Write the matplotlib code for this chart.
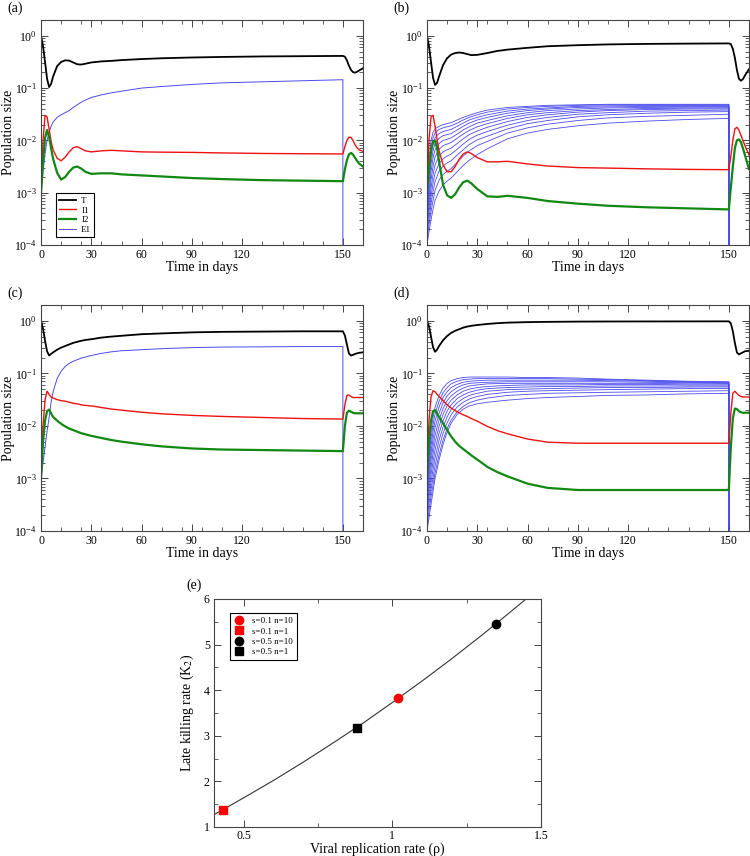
import numpy as np
import matplotlib
matplotlib.use('Agg')
import matplotlib.pyplot as plt
from matplotlib.ticker import FixedLocator, LogLocator, NullFormatter, MultipleLocator

plt.rcParams['font.family'] = ['Liberation Serif', 'DejaVu Serif']
plt.rcParams['mathtext.fontset'] = 'stix'

#%% Data (stored as log10 of population size)

days = [0, 1, 2, 3, 4, 5, 6, 8, 10, 12, 14, 16, 18, 20, 22, 25, 30, 35, 40, 50,
        60, 75, 90, 110, 130, 150, 151, 152, 153, 154, 155, 156, 157, 158, 160]
e1_days = [0, 1, 2, 3, 4, 5, 6, 8, 10, 12, 14, 16, 18, 20, 22, 25, 30, 35, 40, 50,
           60, 75, 90, 110, 130, 150]
fam_days = [0, 1, 2, 3, 4, 6, 8, 10, 12, 15, 18, 21, 25, 30, 40, 50, 60, 75, 90, 110, 130, 150]

x_ticks = [0, 25, 50, 75, 100, 150]
x_tick_labels = ['0', '30', '60', '90', '120', '150']

# panel (a)
T_a = [0, -0.2, -0.5, -0.82, -0.98, -0.92, -0.78, -0.58, -0.5, -0.47, -0.475, -0.51, -0.545, -0.55,
       -0.535, -0.51, -0.49, -0.48, -0.465, -0.445, -0.43, -0.415, -0.405, -0.395, -0.39, -0.385,
       -0.40, -0.47, -0.57, -0.65, -0.695, -0.705, -0.69, -0.665, -0.62]
I1_a = [-3.0, -2.0, -1.52, -1.55, -1.78, -2.02, -2.18, -2.34, -2.39, -2.32, -2.22, -2.14, -2.12, -2.16,
        -2.2, -2.22, -2.2, -2.19, -2.2, -2.22, -2.225, -2.23, -2.24, -2.25, -2.255, -2.26,
        -2.12, -2.0, -1.94, -1.94, -2.0, -2.08, -2.14, -2.18, -2.21]
I2_a = [-3.0, -2.4, -1.95, -1.8, -1.93, -2.15, -2.35, -2.62, -2.75, -2.7, -2.6, -2.52, -2.5, -2.54,
        -2.6, -2.64, -2.63, -2.63, -2.65, -2.67, -2.69, -2.72, -2.74, -2.76, -2.77, -2.78,
        -2.55, -2.38, -2.27, -2.24, -2.27, -2.33, -2.39, -2.44, -2.5]
E1_a = [-3.0, -2.6, -2.25, -2.0, -1.85, -1.73, -1.65, -1.56, -1.51, -1.47, -1.43, -1.37, -1.32, -1.27,
        -1.23, -1.18, -1.13, -1.09, -1.06, -1.0, -0.97, -0.93, -0.90, -0.88, -0.86, -0.84]

# panel (b)
T_b = [0, -0.2, -0.5, -0.8, -0.94, -0.9, -0.78, -0.56, -0.43, -0.36, -0.33, -0.32, -0.33, -0.35,
       -0.37, -0.365, -0.33, -0.29, -0.265, -0.23, -0.2, -0.18, -0.165, -0.155, -0.15, -0.146,
       -0.16, -0.25, -0.42, -0.65, -0.82, -0.86, -0.83, -0.76, -0.64]
I1_b = [-3.0, -2.0, -1.55, -1.52, -1.72, -1.98, -2.2, -2.47, -2.6, -2.6, -2.5, -2.36, -2.26, -2.22,
        -2.25, -2.33, -2.41, -2.41, -2.40, -2.45, -2.49, -2.52, -2.53, -2.545, -2.555, -2.56,
        -2.3, -2.0, -1.78, -1.75, -1.8, -1.9, -2.0, -2.1, -2.28]
I2_b = [-3.0, -2.55, -2.2, -2.03, -2.0, -2.15, -2.4, -2.85, -3.05, -3.1, -3.03, -2.9, -2.8, -2.77,
        -2.82, -2.93, -3.07, -3.08, -3.06, -3.1, -3.16, -3.21, -3.25, -3.28, -3.3, -3.32,
        -2.9, -2.5, -2.15, -2.0, -1.98, -2.03, -2.15, -2.28, -2.55]
E1_b = [
    [-3.0, -2.4, -2.0, -1.85, -1.78, -1.73, -1.70, -1.68, -1.66, -1.61, -1.56, -1.52, -1.47, -1.42, -1.37, -1.35, -1.33, -1.32, -1.31, -1.31, -1.31, -1.31],
    [-3.1, -2.55, -2.15, -1.95, -1.86, -1.79, -1.76, -1.74, -1.72, -1.67, -1.61, -1.56, -1.51, -1.46, -1.40, -1.37, -1.35, -1.33, -1.32, -1.32, -1.32, -1.32],
    [-3.2, -2.7, -2.3, -2.07, -1.95, -1.87, -1.83, -1.81, -1.79, -1.73, -1.67, -1.61, -1.56, -1.51, -1.44, -1.40, -1.38, -1.35, -1.34, -1.335, -1.335, -1.335],
    [-3.3, -2.85, -2.45, -2.2, -2.06, -1.96, -1.91, -1.89, -1.87, -1.80, -1.73, -1.67, -1.61, -1.56, -1.48, -1.43, -1.40, -1.37, -1.36, -1.35, -1.35, -1.35],
    [-3.4, -3.0, -2.6, -2.34, -2.18, -2.06, -2.00, -1.98, -1.95, -1.88, -1.80, -1.74, -1.67, -1.62, -1.53, -1.47, -1.43, -1.40, -1.38, -1.37, -1.365, -1.365],
    [-3.5, -3.12, -2.76, -2.5, -2.32, -2.17, -2.10, -2.07, -2.04, -1.96, -1.88, -1.81, -1.74, -1.68, -1.58, -1.51, -1.47, -1.43, -1.41, -1.39, -1.385, -1.38],
    [-3.6, -3.25, -2.92, -2.66, -2.47, -2.30, -2.22, -2.18, -2.15, -2.06, -1.97, -1.89, -1.82, -1.75, -1.64, -1.56, -1.51, -1.46, -1.43, -1.41, -1.40, -1.40],
    [-3.7, -3.37, -3.07, -2.82, -2.63, -2.44, -2.35, -2.30, -2.26, -2.17, -2.07, -1.98, -1.90, -1.83, -1.71, -1.62, -1.56, -1.50, -1.47, -1.44, -1.43, -1.42],
    [-3.8, -3.5, -3.22, -2.98, -2.79, -2.59, -2.49, -2.43, -2.39, -2.28, -2.18, -2.08, -1.99, -1.92, -1.78, -1.68, -1.62, -1.55, -1.51, -1.48, -1.46, -1.45],
    [-3.9, -3.62, -3.37, -3.15, -2.96, -2.76, -2.65, -2.59, -2.54, -2.42, -2.30, -2.20, -2.10, -2.02, -1.86, -1.76, -1.69, -1.62, -1.57, -1.54, -1.52, -1.50],
    [-4.0, -3.75, -3.52, -3.32, -3.15, -2.97, -2.85, -2.78, -2.72, -2.6, -2.48, -2.38, -2.27, -2.16, -1.97, -1.86, -1.79, -1.72, -1.67, -1.63, -1.60, -1.58],
]

# panel (c)
T_c = [0, -0.15, -0.38, -0.58, -0.66, -0.63, -0.6, -0.55, -0.51, -0.48, -0.45, -0.42, -0.40, -0.38,
       -0.365, -0.35, -0.32, -0.30, -0.285, -0.255, -0.24, -0.22, -0.21, -0.205, -0.2, -0.2,
       -0.28, -0.45, -0.62, -0.66, -0.65, -0.63, -0.62, -0.61, -0.6]
I1_c = [-3.0, -2.0, -1.5, -1.34, -1.4, -1.45, -1.47, -1.5, -1.52, -1.53, -1.55, -1.57, -1.58, -1.6,
        -1.61, -1.62, -1.65, -1.68, -1.7, -1.74, -1.77, -1.8, -1.82, -1.84, -1.86, -1.87,
        -1.6, -1.42, -1.41, -1.44, -1.46, -1.46, -1.46, -1.46, -1.46]
I2_c = [-3.0, -2.3, -1.9, -1.72, -1.69, -1.76, -1.83, -1.9, -1.96, -2.01, -2.05, -2.08, -2.11, -2.14,
        -2.16, -2.19, -2.23, -2.27, -2.3, -2.35, -2.39, -2.43, -2.45, -2.46, -2.47, -2.48,
        -2.0, -1.75, -1.71, -1.73, -1.75, -1.76, -1.76, -1.76, -1.76]
E1_c = [-3.0, -2.7, -2.4, -2.1, -1.85, -1.55, -1.35, -1.1, -0.96, -0.87, -0.81, -0.77, -0.74, -0.71,
        -0.69, -0.66, -0.62, -0.59, -0.57, -0.55, -0.53, -0.51, -0.50, -0.495, -0.49, -0.49]

# panel (d)
T_d = [0, -0.1, -0.3, -0.5, -0.59, -0.55, -0.48, -0.37, -0.29, -0.23, -0.19, -0.16, -0.13, -0.11,
       -0.095, -0.08, -0.06, -0.045, -0.035, -0.025, -0.02, -0.015, -0.013, -0.012, -0.011, -0.01,
       -0.05, -0.2, -0.42, -0.6, -0.64, -0.62, -0.6, -0.58, -0.57]
I1_d = [-3.0, -1.9, -1.45, -1.33, -1.35, -1.4, -1.44, -1.52, -1.6, -1.66, -1.71, -1.75, -1.79, -1.82,
        -1.86, -1.91, -2.01, -2.09, -2.15, -2.25, -2.31, -2.33, -2.33, -2.33, -2.33, -2.33,
        -1.75, -1.38, -1.34, -1.38, -1.42, -1.44, -1.45, -1.45, -1.45]
I2_d = [-3.0, -2.3, -1.9, -1.72, -1.7, -1.76, -1.83, -1.95, -2.08, -2.2, -2.3, -2.38, -2.44, -2.5,
        -2.56, -2.64, -2.78, -2.88, -2.96, -3.1, -3.18, -3.22, -3.22, -3.22, -3.22, -3.22,
        -2.4, -1.85, -1.67, -1.68, -1.72, -1.74, -1.75, -1.75, -1.75]
E1_d = [
    [-3.0, -2.5, -2.1, -1.85, -1.65, -1.42, -1.28, -1.19, -1.14, -1.10, -1.08, -1.07, -1.07, -1.07, -1.07, -1.08, -1.08, -1.09, -1.11, -1.13, -1.15, -1.16],
    [-3.1, -2.62, -2.24, -1.98, -1.78, -1.53, -1.37, -1.27, -1.20, -1.15, -1.12, -1.11, -1.10, -1.10, -1.10, -1.10, -1.10, -1.11, -1.12, -1.14, -1.16, -1.17],
    [-3.2, -2.74, -2.38, -2.11, -1.91, -1.64, -1.46, -1.35, -1.27, -1.21, -1.17, -1.15, -1.14, -1.13, -1.13, -1.13, -1.13, -1.13, -1.14, -1.15, -1.17, -1.18],
    [-3.3, -2.86, -2.52, -2.25, -2.04, -1.76, -1.56, -1.43, -1.35, -1.27, -1.22, -1.19, -1.18, -1.17, -1.16, -1.16, -1.16, -1.16, -1.16, -1.17, -1.18, -1.19],
    [-3.4, -2.98, -2.66, -2.39, -2.18, -1.88, -1.67, -1.52, -1.43, -1.34, -1.28, -1.24, -1.22, -1.20, -1.19, -1.19, -1.19, -1.19, -1.19, -1.19, -1.20, -1.20],
    [-3.5, -3.1, -2.8, -2.53, -2.32, -2.01, -1.78, -1.62, -1.51, -1.41, -1.34, -1.30, -1.27, -1.25, -1.23, -1.22, -1.22, -1.22, -1.21, -1.21, -1.22, -1.22],
    [-3.6, -3.23, -2.94, -2.68, -2.46, -2.14, -1.90, -1.72, -1.60, -1.48, -1.41, -1.36, -1.32, -1.29, -1.27, -1.26, -1.25, -1.25, -1.24, -1.24, -1.24, -1.24],
    [-3.7, -3.36, -3.08, -2.83, -2.61, -2.27, -2.02, -1.83, -1.69, -1.56, -1.48, -1.42, -1.38, -1.34, -1.31, -1.30, -1.29, -1.28, -1.27, -1.27, -1.26, -1.26],
    [-3.8, -3.49, -3.22, -2.98, -2.76, -2.41, -2.14, -1.94, -1.79, -1.64, -1.55, -1.49, -1.44, -1.40, -1.36, -1.34, -1.33, -1.32, -1.31, -1.30, -1.29, -1.29],
    [-3.9, -3.62, -3.36, -3.12, -2.90, -2.55, -2.27, -2.05, -1.89, -1.73, -1.63, -1.56, -1.51, -1.47, -1.42, -1.40, -1.38, -1.37, -1.36, -1.35, -1.34, -1.33],
    [-4.0, -3.75, -3.5, -3.25, -3.0, -2.65, -2.35, -2.12, -1.95, -1.78, -1.68, -1.62, -1.58, -1.55, -1.51, -1.48, -1.46, -1.44, -1.42, -1.41, -1.39, -1.38],
]

# panel (e)
rho_curve = [0.4, 0.5, 0.6, 0.7, 0.8, 0.9, 1.0, 1.1, 1.2, 1.3, 1.4, 1.45]
k2_curve = [1.27, 1.64, 2.02, 2.42, 2.84, 3.27, 3.73, 4.20, 4.69, 5.20, 5.73, 6.0]
pts_labels = ['s=0.1 n=10', 's=0.1 n=1', 's=0.5 n=10', 's=0.5 n=1']
pts_rho = [1.02, 0.43, 1.35, 0.88]
pts_k2 = [3.82, 1.38, 5.45, 3.17]
pts_color = ['red', 'red', 'black', 'black']
pts_marker = ['o', 's', 'o', 's']

#%% Styling helpers

FRAME = '#444444'
C_T, C_I1, C_I2, C_E1 = 'black', '#ee1111', '#118811', '#4a4aee'


def frame_style(ax):
    for s in ax.spines.values():
        s.set_color(FRAME)
        s.set_linewidth(0.8)
    ax.tick_params(which='both', direction='in', top=True, right=True, color=FRAME,
                   labelsize=8.5, pad=3)
    ax.tick_params(which='major', length=5, width=0.7)
    ax.tick_params(which='minor', length=3, width=0.6)


def time_panel(ax, T, I1, I2, label, E1=None, E1_fam=None):
    if E1 is not None:
        ax.plot(e1_days + [150], 10**np.array(E1 + [-6.0]), color=C_E1, lw=0.7, label='E1')
    if E1_fam is not None:
        for curve in E1_fam:
            ax.plot(fam_days + [150], 10**np.array(curve + [-6.0]), color=C_E1, lw=0.6)
    ax.plot(days, 10**np.array(T), color=C_T, lw=1.3, label='T')
    ax.plot(days, 10**np.array(I1), color=C_I1, lw=1.0, label='I1')
    ax.plot(days, 10**np.array(I2), color=C_I2, lw=1.6, label='I2')

    ax.set_yscale('log')
    ax.set_ylim(1e-4, 2)
    ax.set_xlim(0, 160)
    ax.yaxis.set_major_locator(LogLocator(base=10, numticks=10))
    ax.yaxis.set_minor_locator(LogLocator(base=10, subs=np.arange(2, 10), numticks=20))
    ax.yaxis.set_minor_formatter(NullFormatter())
    ax.xaxis.set_major_locator(FixedLocator(x_ticks))
    ax.set_xticklabels(x_tick_labels)
    ax.xaxis.set_minor_locator(MultipleLocator(10))
    frame_style(ax)
    ax.set_xlabel('Time in days', fontsize=10)
    ax.set_ylabel('Population size', fontsize=10)
    ax.xaxis.set_label_coords(0.5, -0.07)
    ax.yaxis.set_label_coords(-0.082, 0.5)
    ax.text(-0.105, 1.052, label, transform=ax.transAxes, fontsize=10, va='center')


#%% Plotting

fig = plt.figure(figsize=(7.5, 8.56), dpi=100)

ax_a = fig.add_axes([0.0547, 0.7138, 0.4293, 0.2628])
ax_b = fig.add_axes([0.5693, 0.7138, 0.4293, 0.2628])
ax_c = fig.add_axes([0.0547, 0.3797, 0.4293, 0.2640])
ax_d = fig.add_axes([0.5693, 0.3797, 0.4293, 0.2640])
ax_e = fig.add_axes([0.2853, 0.0339, 0.4360, 0.2664])

time_panel(ax_a, T_a, I1_a, I2_a, '(a)', E1=E1_a)
time_panel(ax_b, T_b, I1_b, I2_b, '(b)', E1_fam=E1_b)
time_panel(ax_c, T_c, I1_c, I2_c, '(c)', E1=E1_c)
time_panel(ax_d, T_d, I1_d, I2_d, '(d)', E1_fam=E1_d)

handles, labels = ax_a.get_legend_handles_labels()
order = [labels.index(n) for n in ['T', 'I1', 'I2', 'E1']]
leg = ax_a.legend([handles[i] for i in order], [labels[i] for i in order],
                  loc='lower left', bbox_to_anchor=(0.045, 0.035), borderaxespad=0,
                  fontsize=6.5, handlelength=1.9, handletextpad=0.6, labelspacing=0.15,
                  borderpad=0.35, fancybox=False, framealpha=1)
leg.get_frame().set_edgecolor('black')
leg.get_frame().set_linewidth(0.8)

# panel (e)
ax_e.plot(rho_curve, k2_curve, color='#333333', lw=0.8)
for r, k, c, m, lab in zip(pts_rho, pts_k2, pts_color, pts_marker, pts_labels):
    ax_e.plot([r], [k], ls='none', marker=m, color=c, ms=6 if m == 'o' else 5.5, label=lab)
ax_e.set_xlim(0.4, 1.5)
ax_e.set_ylim(1, 6)
ax_e.xaxis.set_major_locator(FixedLocator([0.5, 1.0, 1.5]))
ax_e.set_xticklabels(['0.5', '1', '1.5'])
ax_e.xaxis.set_minor_locator(MultipleLocator(0.25))
ax_e.yaxis.set_major_locator(MultipleLocator(1))
ax_e.yaxis.set_minor_locator(MultipleLocator(0.5))
frame_style(ax_e)
ax_e.tick_params(axis='x', pad=2)
ax_e.set_xlabel('Viral replication rate (ρ)', fontsize=10)
ax_e.set_ylabel('Late killing rate (K$_2$)', fontsize=10)
ax_e.xaxis.set_label_coords(0.5, -0.068)
ax_e.yaxis.set_label_coords(-0.056, 0.5)
ax_e.text(-0.085, 1.06, '(e)', transform=ax_e.transAxes, fontsize=10, va='center')
leg_e = ax_e.legend(loc='upper left', bbox_to_anchor=(0.049, 0.939), borderaxespad=0,
                    fontsize=6.5, handlelength=1.2, labelspacing=0.22, borderpad=0.45,
                    fancybox=False, framealpha=1)
leg_e.get_frame().set_edgecolor('black')
leg_e.get_frame().set_linewidth(0.8)

plt.savefig('out.png', dpi=100)
